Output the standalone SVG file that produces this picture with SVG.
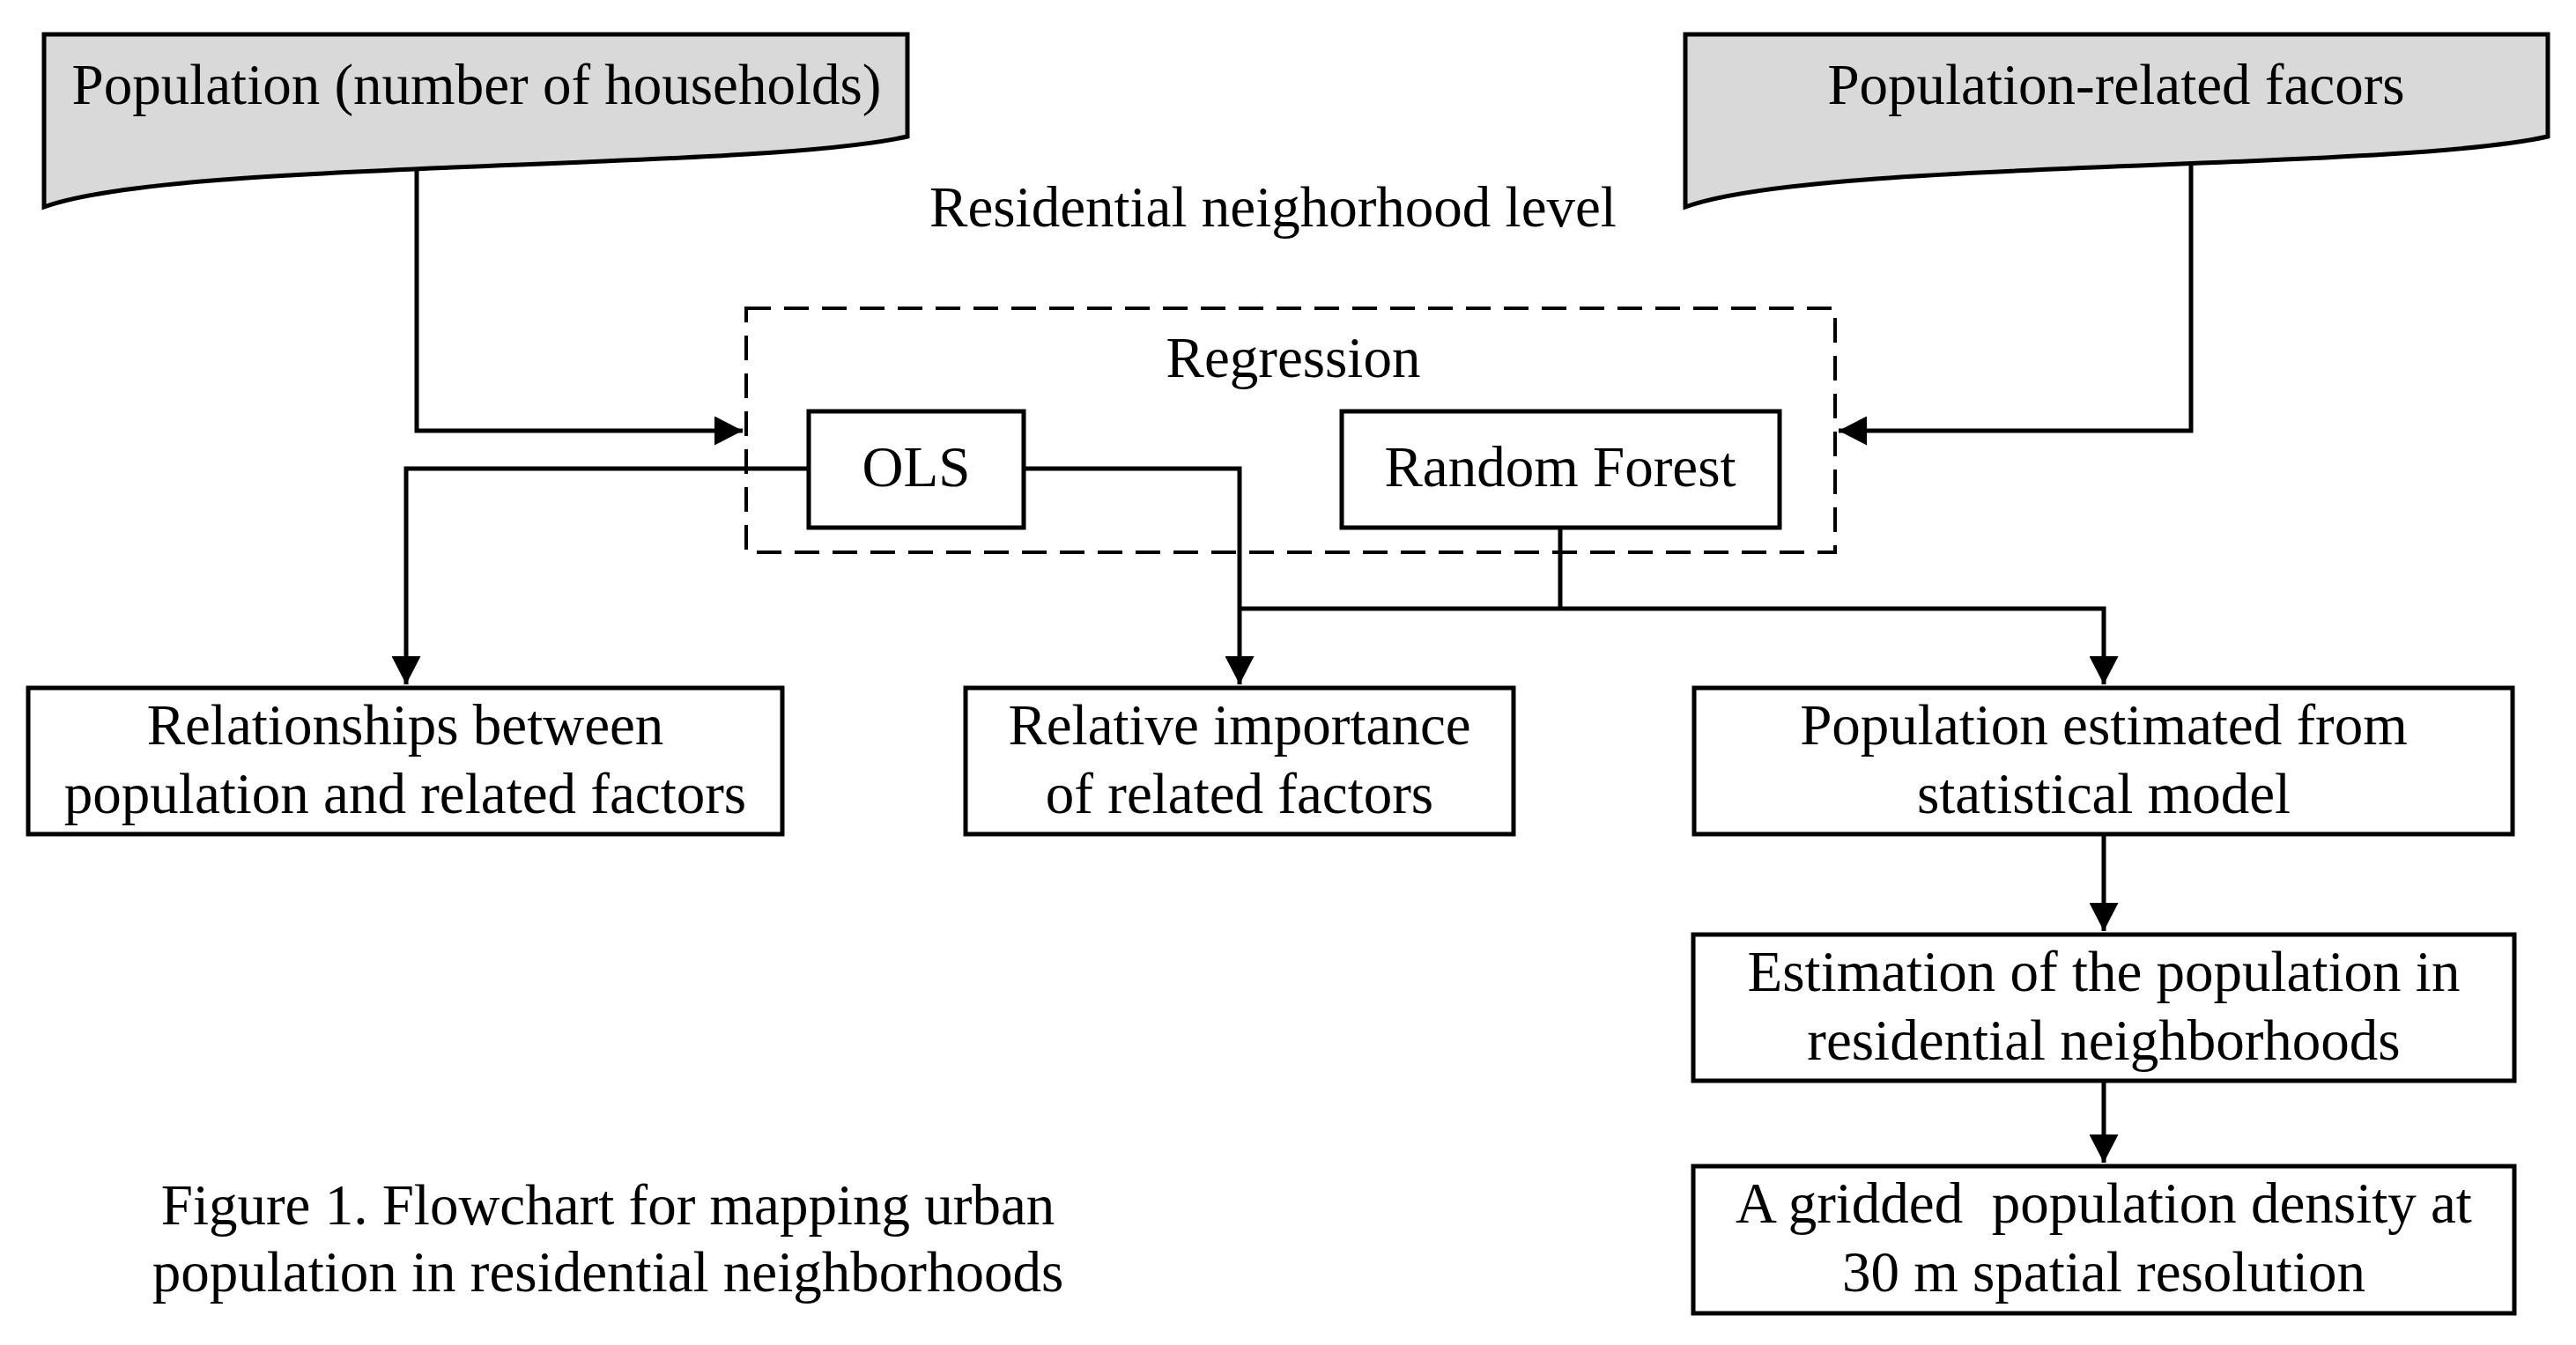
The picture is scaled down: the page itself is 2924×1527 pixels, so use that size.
<svg xmlns="http://www.w3.org/2000/svg" width="2924" height="1527" viewBox="0 0 2924 1527">
<style>
text{font-family:"Liberation Serif","Times New Roman",serif;font-size:65px;fill:#000;text-anchor:middle}
.box{fill:#fff;stroke:#000;stroke-width:5}
.doc{fill:#d9d9d9;stroke:#000;stroke-width:5;stroke-linejoin:miter}
.dash{fill:none;stroke:#000;stroke-width:4;stroke-dasharray:28 15}
.ln{fill:none;stroke:#000;stroke-width:5}
</style>
<defs>
<marker id="arr" markerUnits="userSpaceOnUse" markerWidth="32" markerHeight="33" refX="32" refY="16.5" orient="auto">
<path d="M0,0 L32,16.5 L0,33 Z" fill="#000"/>
</marker>
</defs>
<rect width="2924" height="1527" fill="#fff"/>

<text x="1445" y="257">Residential neighorhood level</text>
<g id="caption">
<text x="690" y="1390">Figure 1. Flowchart for mapping urban</text>
<text x="690" y="1466">population in residential neighborhoods</text>
</g>

<g id="regression">
<rect class="dash" x="847" y="350" width="1236" height="277"/>
<text x="1468" y="428">Regression</text>
</g>

<g id="connectors">
<path class="ln" d="M473,192 V489 H843" marker-end="url(#arr)"/>
<path class="ln" d="M2487,188 V489 H2087" marker-end="url(#arr)"/>
<path class="ln" d="M918,532 H461 V777" marker-end="url(#arr)"/>
<path class="ln" d="M1162,532 H1407 V777" marker-end="url(#arr)"/>
<path class="ln" d="M1771,599 V691"/>
<path class="ln" d="M1407,691 H2388 V777" marker-end="url(#arr)"/>
<path class="ln" d="M2388,947 V1057" marker-end="url(#arr)"/>
<path class="ln" d="M2388,1227 V1320" marker-end="url(#arr)"/>
</g>

<g id="doc-population">
<path class="doc" d="M50,39 H1030 V155 C850,195 200,180 50,235 Z"/>
<text x="541" y="118">Population (number of households)</text>
</g>
<g id="doc-factors">
<path class="doc" d="M1913,39 H2892 V155 C2712,195 2063,180 1913,235 Z"/>
<text x="2402" y="118">Population-related facors</text>
</g>

<g id="ols">
<rect class="box" x="918" y="467" width="244" height="132"/>
<text x="1040" y="552">OLS</text>
</g>
<g id="rf">
<rect class="box" x="1523" y="467" width="497" height="132"/>
<text x="1771" y="552">Random Forest</text>
</g>

<g id="relationships">
<rect class="box" x="32" y="781" width="856" height="166"/>
<text x="460" y="845">Relationships between</text>
<text x="460" y="923">population and related factors</text>
</g>
<g id="importance">
<rect class="box" x="1096" y="781" width="622" height="166"/>
<text x="1407" y="845">Relative importance</text>
<text x="1407" y="923">of related factors</text>
</g>
<g id="estimated">
<rect class="box" x="1923" y="781" width="929" height="166"/>
<text x="2388" y="845">Population estimated from</text>
<text x="2388" y="923">statistical model</text>
</g>
<g id="estimation">
<rect class="box" x="1922" y="1061" width="932" height="166"/>
<text x="2388" y="1125">Estimation of the population in</text>
<text x="2388" y="1203">residential neighborhoods</text>
</g>
<g id="gridded">
<rect class="box" x="1922" y="1324" width="932" height="167"/>
<text x="2388" y="1388" style="white-space:pre" xml:space="preserve">A gridded  population density at</text>
<text x="2388" y="1466">30 m spatial resolution</text>
</g>
</svg>
